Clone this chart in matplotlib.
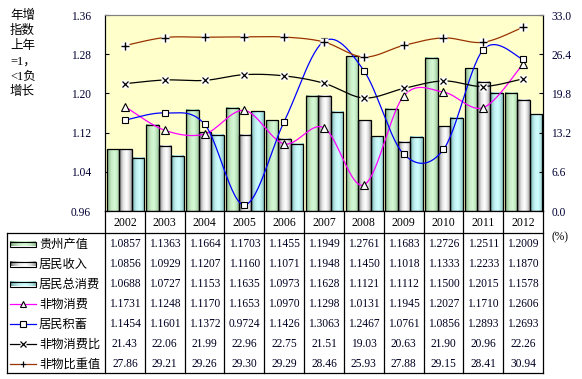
import numpy as np
import matplotlib
matplotlib.use('Agg')
import matplotlib.pyplot as plt
from matplotlib.colors import LinearSegmentedColormap

plt.rcParams['font.family'] = ['Liberation Serif', 'Noto Sans CJK SC', 'DejaVu Sans']

# данные
years = ['2002', '2003', '2004', '2005', '2006', '2007', '2008', '2009', '2010', '2011', '2012']
gz_output = [1.0857, 1.1363, 1.1664, 1.1703, 1.1455, 1.1949, 1.2761, 1.1683, 1.2726, 1.2511, 1.2009]
income = [1.0856, 1.0929, 1.1207, 1.1160, 1.1071, 1.1948, 1.1450, 1.1018, 1.1333, 1.2233, 1.1870]
consume = [1.0688, 1.0727, 1.1153, 1.1635, 1.0973, 1.1628, 1.1121, 1.1112, 1.1500, 1.2015, 1.1578]
nonmat = [1.1731, 1.1248, 1.1170, 1.1653, 1.0970, 1.1298, 1.0131, 1.1945, 1.2027, 1.1710, 1.2606]
savings = [1.1454, 1.1601, 1.1372, 0.9724, 1.1426, 1.3063, 1.2467, 1.0761, 1.0856, 1.2893, 1.2693]
nonmat_ratio = [21.43, 22.06, 21.99, 22.96, 22.75, 21.51, 19.03, 20.63, 21.90, 20.96, 22.26]
nonmat_share = [27.86, 29.21, 29.26, 29.30, 29.29, 28.46, 25.93, 27.88, 29.15, 28.41, 30.94]

names = ['贵州产值', '居民收入', '居民总消费', '非物消费', '居民积蓄', '非物消费比', '非物比重值']

W, H = 582, 379
L, R, T, B = 105, 543, 15, 211


def fx(px):
    return px / W


def fy(py):
    return 1 - py / H


# градиенты столбиков
def grad_cmap(dark, light):
    return LinearSegmentedColormap.from_list('g', [(0, dark), (1, light)])


t = np.linspace(0, 1, 64)
prof = np.interp(t, [0, 0.12, 0.35, 0.6, 0.8, 1], [0, 0.5, 0.88, 1, 0.82, 0.45])
prof = prof[None, :]
cm_green = grad_cmap('#5f8f5f', '#d6fad6')
cm_gray = grad_cmap('#4a4a4a', '#ffffff')
cm_cyan = grad_cmap('#528c8c', '#d0ffff')


def smooth(xs, ys, n=30):
    # сглаживание как в Excel (Catmull-Rom)
    P = np.column_stack([xs, ys]).astype(float)
    P = np.vstack([P[0], P, P[-1]])
    out = []
    for i in range(1, len(P) - 2):
        p0, p1, p2, p3 = P[i - 1], P[i], P[i + 1], P[i + 2]
        s = np.linspace(0, 1, n)[:, None]
        c = 0.5 * ((2 * p1) + (-p0 + p2) * s + (2 * p0 - 5 * p1 + 4 * p2 - p3) * s ** 2
                   + (-p0 + 3 * p1 - 3 * p2 + p3) * s ** 3)
        out.append(c)
    c = np.vstack(out)
    return c[:, 0], c[:, 1]


fig = plt.figure(figsize=(W / 100, H / 100), dpi=100)
ax = fig.add_axes([fx(L), fy(B), fx(R - L), (B - T) / H])
ax.set_facecolor('#ffffcc')
ax.set_xlim(0, 11)
ax.set_ylim(0.96, 1.36)

x = np.arange(len(years))
bw = 0.315
for vals, cm, k in [(gz_output, cm_green, 0), (income, cm_gray, 1), (consume, cm_cyan, 2)]:
    for i, v in enumerate(vals):
        x0 = i + 0.04 + k * bw
        ax.imshow(prof, cmap=cm, vmin=0, vmax=1, extent=[x0, x0 + bw, 0.96, v],
                  aspect='auto', zorder=2, interpolation='bilinear')
        ax.add_patch(plt.Rectangle((x0, 0.96), bw, v - 0.96, fill=False, ec='black', lw=0.9, zorder=3))
ax.set_xlim(0, 11)
ax.set_ylim(0.96, 1.36)

xc = x + 0.5
sx, sy = smooth(xc, nonmat)
ax.plot(sx, sy, color='#ff00ff', lw=0.9, zorder=4)
ax.plot(xc, nonmat, ls='none', marker='^', ms=5.5, mfc='white', mec='black', mew=0.8, zorder=5)
sx, sy = smooth(xc, savings)
ax.plot(sx, sy, color='#0000ff', lw=0.9, zorder=4)
ax.plot(xc, savings, ls='none', marker='s', ms=5, mfc='white', mec='black', mew=0.8, zorder=5)

ax.set_xticks([])
ax.set_yticks(np.arange(0.96, 1.37, 0.08))
ax.set_yticklabels(['%.2f' % v for v in np.arange(0.96, 1.37, 0.08)], fontsize=8.3, color='#000033')
ax.tick_params(axis='y', direction='in', length=3, pad=10)
ax.spines['top'].set_color('#808080')
ax.spines['bottom'].set_visible(False)

ax2 = ax.twinx()
ax2.set_ylim(0, 33)
sx, sy = smooth(xc, nonmat_ratio)
ax2.plot(sx, sy, color='black', lw=0.9, zorder=4)
ax2.plot(xc, nonmat_ratio, ls='none', marker='s', ms=6, mfc='white', mec='none', zorder=5)
ax2.plot(xc, nonmat_ratio, ls='none', marker='x', ms=4.5, color='black', mew=0.9, zorder=6)
sx, sy = smooth(xc, nonmat_share)
ax2.plot(sx, sy, color='#993300', lw=0.9, zorder=4)
ax2.plot(xc, nonmat_share, ls='none', marker='s', ms=6, mfc='white', mec='none', zorder=5)
ax2.plot(xc, nonmat_share, ls='none', marker='+', ms=6, color='black', mew=1.0, zorder=6)
ax2.set_yticks(np.arange(0, 33.1, 6.6))
ax2.set_yticklabels(['%.1f' % v for v in np.arange(0, 33.1, 6.6)], fontsize=8.3, color='#000033')
ax2.tick_params(axis='y', direction='in', length=3, pad=6)
ax2.spines['top'].set_color('#808080')
ax2.spines['bottom'].set_visible(False)

# подпись слева
left_lines = ['年增', '指数', '上年', '=1，', '<1负', '增长']
for i, s in enumerate(left_lines):
    fig.text(fx(10), fy(16 + 15.2 * i), s, fontsize=9, va='center', ha='left')
fig.text(fx(551), fy(237), '(%)', fontsize=8.3, va='center', ha='left')

# таблица данных
tab = fig.add_axes([0, 0, 1, 1])
tab.set_xlim(0, W)
tab.set_ylim(H, 0)
tab.axis('off')
tab.patch.set_alpha(0)

cw = (R - L) / len(years)
cols = [L + i * cw for i in range(len(years) + 1)]
lk = dict(color='black', lw=0.9)
for c in cols:
    tab.plot([c, c], [B, 373], **lk)
tab.plot([L, R], [B, B], **lk)
tab.plot([7, R], [233, 233], **lk)
tab.plot([7, R], [373, 373], **lk)
tab.plot([7, 7], [233, 373], **lk)

for i, yv in enumerate(years):
    tab.text(cols[i] + cw / 2, 222.5, yv, fontsize=8.5, ha='center', va='center')

rows = [
    ['%.4f' % v for v in gz_output],
    ['%.4f' % v for v in income],
    ['%.4f' % v for v in consume],
    ['%.4f' % v for v in nonmat],
    ['%.4f' % v for v in savings],
    ['%.2f' % v for v in nonmat_ratio],
    ['%.2f' % v for v in nonmat_share],
]
for r, row in enumerate(rows):
    yy = 244 + 20 * r
    for i, s in enumerate(row):
        tab.text(cols[i] + cw / 2, yy, s, fontsize=8.3, ha='center', va='center', color='#000022')
    tab.text(39, yy, names[r], fontsize=8.8, ha='left', va='center',
             family=['Noto Sans CJK SC', 'DejaVu Sans'])

# ключи легенды
for r, cm in enumerate([cm_green, cm_gray, cm_cyan]):
    yy = 244 + 20 * r
    tab.imshow(prof, cmap=cm, vmin=0, vmax=1, extent=[10, 36, yy + 2.5, yy - 2.5],
               aspect='auto', interpolation='bilinear', zorder=2)
    tab.add_patch(plt.Rectangle((10, yy - 2.5), 26, 5, fill=False, ec='black', lw=0.8, zorder=3))
tab.set_xlim(0, W)
tab.set_ylim(H, 0)

key_styles = [('#ff00ff', '^', 'white'), ('#0000ff', 's', 'white'), ('black', 'x', None), ('#993300', '+', None)]
for k, (col, mk, mf) in enumerate(key_styles):
    yy = 244 + 20 * (k + 3)
    tab.plot([10, 36], [yy, yy], color=col, lw=0.9)
    if mf:
        tab.plot([23], [yy], marker=mk, ms=4.5, mfc='white', mec='black', mew=0.8)
    else:
        tab.plot([23], [yy], marker='s', ms=5, mfc='white', mec='none')
        tab.plot([23], [yy], marker=mk, ms=4, color='black', mew=0.9)

fig.savefig('out.png', dpi=100)
